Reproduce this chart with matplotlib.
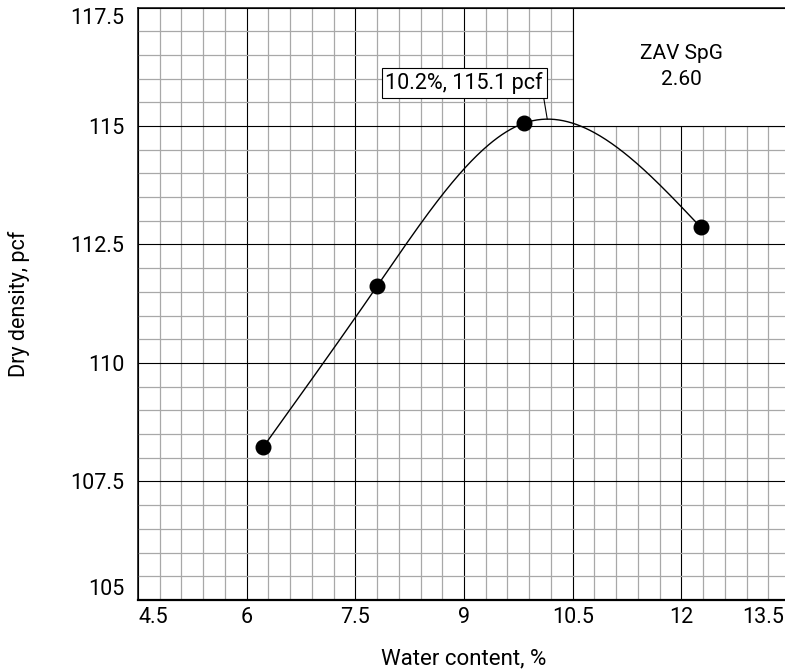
import numpy as np
import matplotlib
matplotlib.use("Agg")
import matplotlib.pyplot as plt
from matplotlib.patches import Rectangle
from matplotlib.ticker import MultipleLocator
from matplotlib.transforms import ScaledTranslation

plt.rcParams["font.family"] = ["Roboto", "DejaVu Sans"]

# compaction test points
water_content = [6.23, 7.80, 9.83, 12.27]
dry_density = [108.23, 111.62, 115.06, 112.86]

peak_label = "10.2%, 115.1 pcf"
zav_label = "ZAV SpG\n2.60"

x_ticks = [4.5, 6, 7.5, 9, 10.5, 12, 13.5]
x_tick_labels = ["4.5", "6", "7.5", "9", "10.5", "12", "13.5"]
y_ticks = [105, 107.5, 110, 112.5, 115, 117.5]
y_tick_labels = ["105", "107.5", "110", "112.5", "115", "117.5"]

ZAV_BOX = (10.5, 115.0)


def natural_spline(xs, ys, n=300):
    # plain natural cubic spline, no scipy needed
    xs = np.asarray(xs, float)
    ys = np.asarray(ys, float)
    k = len(xs)
    h = np.diff(xs)
    d = np.diff(ys) / h
    A = np.zeros((k, k))
    b = np.zeros(k)
    A[0, 0] = A[-1, -1] = 1.0
    for i in range(1, k - 1):
        A[i, i - 1] = h[i - 1]
        A[i, i] = 2 * (h[i - 1] + h[i])
        A[i, i + 1] = h[i]
        b[i] = 6 * (d[i] - d[i - 1])
    M = np.linalg.solve(A, b)
    xx = np.linspace(xs[0], xs[-1], n)
    idx = np.clip(np.searchsorted(xs, xx) - 1, 0, k - 2)
    x0, x1 = xs[idx], xs[idx + 1]
    hh = x1 - x0
    t0, t1 = xx - x0, x1 - xx
    yy = (M[idx] * t1**3 + M[idx + 1] * t0**3) / (6 * hh) \
        + (ys[idx] / hh - M[idx] * hh / 6) * t1 \
        + (ys[idx + 1] / hh - M[idx + 1] * hh / 6) * t0
    return xx, yy


fig = plt.figure(figsize=(7.85, 6.70), dpi=100)
ax = fig.add_axes([0.1758, 0.1045, 0.8306, 0.8843])

ax.set_xlim(x_ticks[0], x_ticks[-1])
ax.set_ylim(y_ticks[0], y_ticks[-1])

ax.set_xticks(x_ticks)
ax.set_xticklabels(x_tick_labels)
ax.set_yticks(y_ticks)
ax.set_yticklabels(y_tick_labels)
ax.xaxis.set_minor_locator(MultipleLocator(0.3))
ax.yaxis.set_minor_locator(MultipleLocator(0.5))

ax.set_axisbelow(True)
ax.grid(which="minor", color="#a8a8a8", linewidth=0.9)
ax.grid(which="major", color="black", linewidth=0.8)
ax.tick_params(which="both", length=0, labelsize=15.5)
ax.tick_params(axis="x", pad=5)
ax.tick_params(axis="y", pad=10)

# keep the end labels inside the frame
xl = ax.get_xticklabels()
xl[0].set_ha("left")
xl[-1].set_ha("right")
xl[-1].set_transform(xl[-1].get_transform() +
                     ScaledTranslation(-6 / 100, 0, fig.dpi_scale_trans))
yl = ax.get_yticklabels()
yl[0].set_va("bottom")
yl[-1].set_va("top")

for s in ["left", "top"]:
    ax.spines[s].set_linewidth(1.1)
ax.spines["bottom"].set_linewidth(1.6)

# blank corner for the ZAV note
zx, zy = ZAV_BOX
zw = x_ticks[-1] - zx
zh = y_ticks[-1] - zy
ax.add_patch(Rectangle((zx, zy), zw, zh, facecolor="white", edgecolor="black",
                       linewidth=0.8, zorder=1))
ax.text(zx + zw / 2, zy + zh / 2, zav_label, ha="center", va="center",
        fontsize=15, linespacing=1.45, zorder=4)

cx, cy = natural_spline(water_content, dry_density)
ax.plot(cx, cy, color="black", linewidth=1.0, zorder=2)
ax.plot(water_content, dry_density, "o", color="black", markersize=10.5, zorder=3)

# peak callout
ip = np.argmax(cy)
ax.annotate(peak_label, xy=(cx[ip], cy[ip]), xytext=(-3, 26),
            textcoords="offset points", ha="right", va="center", fontsize=15.5,
            bbox=dict(boxstyle="square,pad=0.18", facecolor="white",
                      edgecolor="black", linewidth=0.8),
            arrowprops=dict(arrowstyle="-", color="black", linewidth=0.8,
                            shrinkA=0, shrinkB=0, relpos=(1, 0)),
            zorder=5)

ax.set_xlabel("Water content, %", fontsize=16)
ax.set_ylabel("Dry density, pcf", fontsize=15.5)
ax.xaxis.set_label_coords(0.5, -0.082)
ax.yaxis.set_label_coords(-0.165, 0.5)

fig.savefig("out.png", dpi=100)
